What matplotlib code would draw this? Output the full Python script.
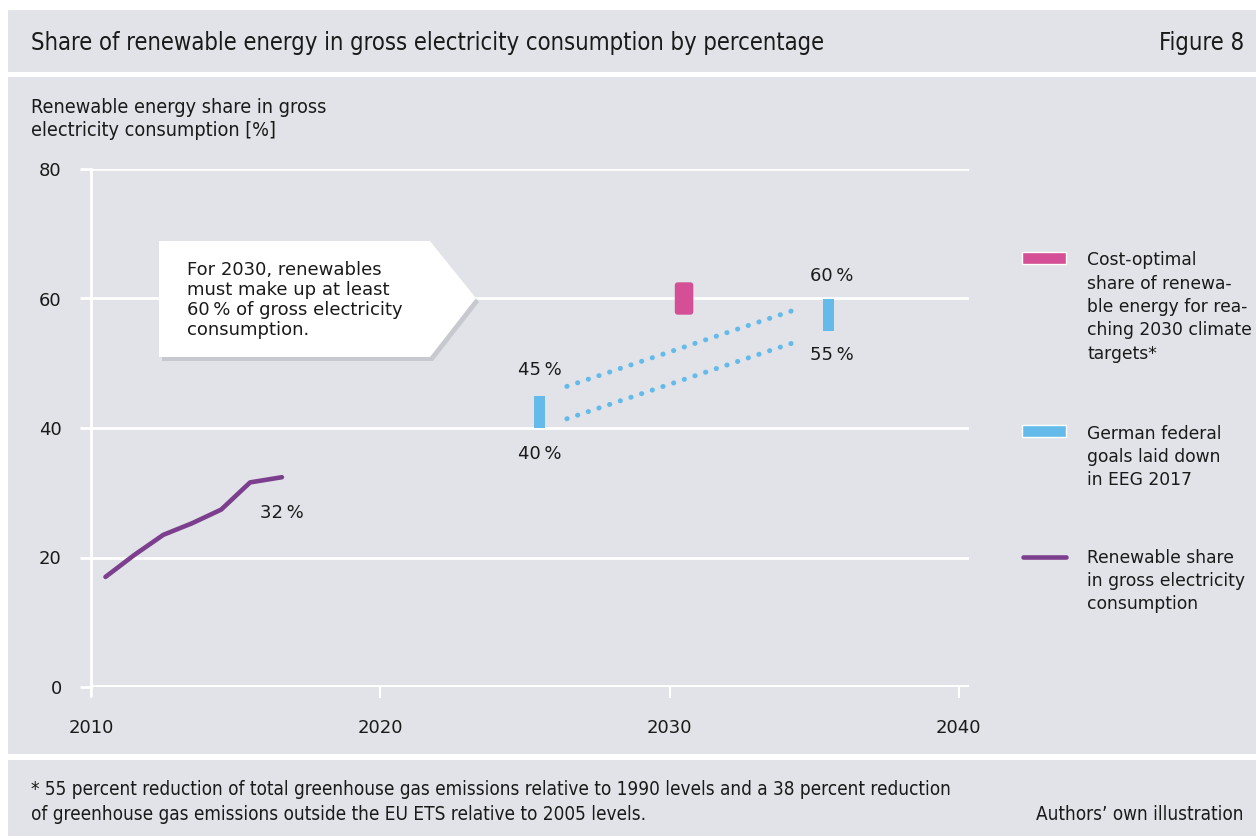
import matplotlib.pyplot as plt
from matplotlib.patches import Rectangle, Polygon, FancyBboxPatch
from matplotlib.lines import Line2D

# renewable share in gross electricity consumption, %
years = [2010.5, 2011.5, 2012.5, 2013.5, 2014.5, 2015.5, 2016.6]
share = [17.0, 20.4, 23.5, 25.3, 27.4, 31.6, 32.4]

# EEG 2017 corridor (2025 and 2035)
eeg_x = [2025.5, 2035.5]
eeg_low = [40, 55]
eeg_high = [45, 60]

# cost-optimal share for 2030
opt_x = 2030.5
opt_low, opt_high = 57.5, 62.5

bg = '#e2e3e8'
purple = '#7b3f8e'
blue = '#64bbea'
pink = '#d44f95'
txt = '#1a1a1a'

plt.rcParams['font.family'] = ['DejaVu Sans']

fig = plt.figure(figsize=(12.56, 8.39), dpi=100)
fig.patch.set_facecolor('white')

W, H = 1256, 839
def fx(px): return px / W
def fy(py): return 1 - py / H

# grey panels: header, chart, footer
for top, bot in [(10, 72), (77, 754), (760, 836)]:
    fig.patches.append(Rectangle((fx(8), fy(bot)), fx(W - 8), (bot - top) / H,
                                 transform=fig.transFigure, facecolor=bg,
                                 edgecolor='none', zorder=-5))

cond = dict(family='DejaVu Sans', stretch='condensed', color=txt)
fig.text(fx(31), fy(43), 'Share of renewable energy in gross electricity consumption by percentage',
         fontsize=17.1, va='center', **cond)
fig.text(fx(1244), fy(43), 'Figure 8', fontsize=17.1, va='center', ha='right', **cond)
fig.text(fx(31), fy(119), 'Renewable energy share in gross\nelectricity consumption [%]',
         fontsize=14.2, va='center', linespacing=1.3, **cond)
fig.text(fx(31), fy(802), '* 55 percent reduction of total greenhouse gas emissions relative to 1990 levels and a 38 percent reduction\n'
         'of greenhouse gas emissions outside the EU ETS relative to 2005 levels.',
         fontsize=13.6, va='center', linespacing=1.38, **cond)
fig.text(fx(1244), fy(815), 'Authors\u2019 own illustration', fontsize=13.6, va='center', ha='right', **cond)

ax = fig.add_axes([fx(91), fy(687), fx(969) - fx(91), (687 - 169) / H])
ax.patch.set_alpha(0)
ax.set_xlim(2010, 2040.35)
ax.set_ylim(0, 80)
for s in ['top', 'right']:
    ax.spines[s].set_visible(False)
ax.spines['left'].set_color('white')
ax.spines['left'].set_linewidth(2)
ax.spines['left'].set_bounds(-1.3, 80)
ax.spines['bottom'].set_visible(False)

ax.set_yticks([0, 20, 40, 60, 80])
ax.set_xticks([2010, 2020, 2030, 2040])
ax.tick_params(axis='y', length=8, width=2, color='white', pad=13, labelsize=13, labelcolor=txt)
ax.tick_params(axis='x', length=8, width=1.5, color='white', pad=15, labelsize=13, labelcolor=txt)
ax.grid(axis='y', color='white', lw=2)
ax.axhline(0, color='white', lw=3.5, zorder=2)
ax.set_axisbelow(True)

# historical share
ax.plot(years, share, color=purple, lw=3.3, solid_capstyle='round', zorder=4)
ax.text(years[-1], share[-1] - 5.5, '32\u2009%', ha='center', va='center', fontsize=13, color=txt)

# EEG corridor bars and dotted lines
for x, lo, hi in zip(eeg_x, eeg_low, eeg_high):
    ax.bar(x, hi - lo, bottom=lo, width=0.38, color=blue, zorder=4)
for lo_hi in (eeg_low, eeg_high):
    slope = (lo_hi[1] - lo_hi[0]) / (eeg_x[1] - eeg_x[0])
    x0, x1 = eeg_x[0] + 0.95, eeg_x[1] - 1.05
    ax.plot([x0, x1], [lo_hi[0] + slope * 0.95, lo_hi[1] - slope * 1.05],
            color=blue, lw=3.6, ls=(0, (0.05, 2.2)), dash_capstyle='round', zorder=4)
ax.text(eeg_x[0], eeg_high[0] + 4, '45\u2009%', ha='center', va='center', fontsize=13, color=txt)
ax.text(eeg_x[0], eeg_low[0] - 4, '40\u2009%', ha='center', va='center', fontsize=13, color=txt)
ax.text(eeg_x[1] + 0.1, eeg_high[1] + 3.5, '60\u2009%', ha='center', va='center', fontsize=13, color=txt)
ax.text(eeg_x[1] + 0.1, eeg_low[1] - 3.7, '55\u2009%', ha='center', va='center', fontsize=13, color=txt)

# cost-optimal 2030 mark
ax.add_patch(FancyBboxPatch((opt_x - 0.32, opt_low), 0.64, opt_high - opt_low,
                            boxstyle='round,pad=0,rounding_size=0.11',
                            mutation_aspect=4.46, facecolor=pink, edgecolor='none', zorder=4))

# callout arrow box
box = [(159, 241), (430, 241), (476, 298), (430, 357), (159, 357)]
shadow = Polygon([(fx(x + 3), fy(y + 4)) for x, y in box], closed=True,
                 transform=fig.transFigure, facecolor='#b8b9be', edgecolor='none',
                 alpha=0.6, zorder=5)
fig.patches.append(shadow)
fig.patches.append(Polygon([(fx(x), fy(y)) for x, y in box], closed=True,
                           transform=fig.transFigure, facecolor='white',
                           edgecolor='none', zorder=6))
fig.text(fx(187), fy(300), 'For 2030, renewables\nmust make up at least\n60\u2009% of gross electricity\nconsumption.',
         fontsize=13, va='center', linespacing=1.15, color=txt, zorder=7)

# legend
def legend_patch(py, color):
    fig.patches.append(Rectangle((fx(1022), fy(py + 6)), fx(44), 12 / H,
                                 transform=fig.transFigure, facecolor=color,
                                 edgecolor='white', lw=1, zorder=3))

legend_patch(258, pink)
fig.text(fx(1087), fy(307), 'Cost-optimal\nshare of renewa-\nble energy for rea-\nching 2030 climate\ntargets*',
         fontsize=12.3, va='center', linespacing=1.38, color=txt)
legend_patch(431, blue)
fig.text(fx(1087), fy(457), 'German federal\ngoals laid down\nin EEG 2017',
         fontsize=12.3, va='center', linespacing=1.38, color=txt)
fig.lines.append(Line2D([fx(1023), fx(1066)], [fy(557), fy(557)], transform=fig.transFigure,
                        color=purple, lw=3.3, solid_capstyle='round'))
fig.text(fx(1087), fy(581), 'Renewable share\nin gross electricity\nconsumption',
         fontsize=12.3, va='center', linespacing=1.38, color=txt)

fig.savefig('out.png', dpi=100, facecolor='white')
